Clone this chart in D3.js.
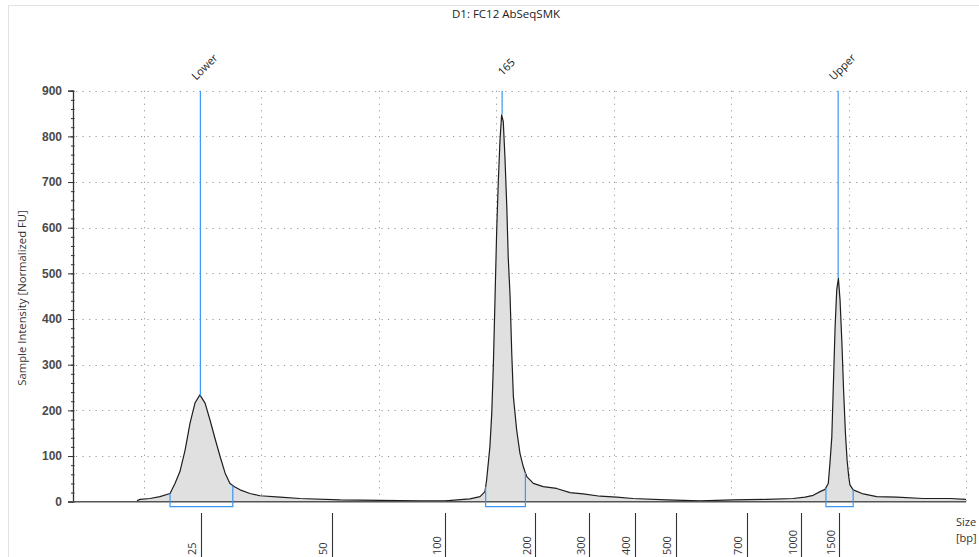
<!DOCTYPE html>
<html>
<head>
<meta charset="utf-8">
<script src="https://cdn.jsdelivr.net/npm/d3@7"></script>
<style>
  body { margin: 0; background: #fff; }
  svg { display: block; font-family: "Open Sans", "Liberation Sans", sans-serif; }
</style>
</head>
<body>
<div class="gram"></div>
<script>
// electropherogram trace: migration time (s) vs normalized FU
const migration = [19.72, 19.85, 20.28, 20.70, 21.13, 21.34, 21.55, 21.77, 21.98, 22.19, 22.40, 22.62, 22.83, 23.04, 23.26, 23.47, 23.68, 23.89, 24.11, 24.53, 24.96, 25.81, 26.66, 28.36, 30.06, 31.77, 32.83, 33.89, 34.32, 34.53, 34.60, 34.74, 34.82, 34.89, 34.96, 35.03, 35.10, 35.17, 35.24, 35.31, 35.38, 35.46, 35.52, 35.60, 35.67, 35.74, 35.88, 36.02, 36.16, 36.23, 36.31, 36.59, 37.01, 37.58, 38.15, 38.71, 39.43, 40.14, 40.83, 42.26, 43.68, 45.09, 46.52, 47.64, 48.15, 48.50, 48.79, 49.00, 49.14, 49.21, 49.29, 49.35, 49.43, 49.50, 49.57, 49.64, 49.72, 49.79, 49.87, 49.94, 50.01, 50.06, 50.20, 50.63, 51.20, 52.05, 53.18, 54.32, 55.00];
const intensity = [2, 5, 7, 11, 18, 40, 66, 113, 172, 216, 234, 216, 179, 139, 99, 63, 40, 32, 26, 18, 13, 10, 7, 4, 3, 2, 2, 6, 11, 22, 47, 120, 194, 304, 449, 595, 704, 792, 847, 832, 755, 646, 536, 449, 325, 230, 157, 106, 77, 66, 55, 40, 33, 29, 20, 17, 12, 10, 7, 4, 2, 4, 5, 7, 10, 14, 22, 27, 40, 84, 142, 245, 383, 464, 489, 442, 347, 245, 150, 91, 55, 37, 26, 17, 11, 10, 7, 7, 5];

// ladder sizes and where they sit in migration time
const ladderSizes = [25, 50, 100, 200, 300, 400, 500, 700, 1000, 1500];
const ladderTimes = [22.43, 28.01, 32.83, 36.66, 38.96, 40.91, 42.65, 45.67, 47.98, 49.61];

// called peaks
const peakLabels = ["Lower", "165", "Upper"];
const peakTimes = [22.42, 35.26, 49.56];
const peakValues = [232, 848, 490];
const regionStart = [21.13, 34.56, 49.04];
const regionEnd = [23.80, 36.25, 50.20];

const yTicks = [0, 100, 200, 300, 400, 500, 600, 700, 800, 900];
const timeGrid = [20, 25, 30, 35, 40, 45, 50, 55];

const width = 979, height = 557;
const margin = {top: 90.7, left: 73, right: 13, bottom: 55.3};
const blue = "#3b97f3";

const svg = d3.select(".gram")
    .append("svg")
    .attr("width", width)
    .attr("height", height);

const x = d3.scaleLinear()
    .domain([17, 55])
    .range([margin.left, width - margin.right]);
const y = d3.scaleLinear()
    .domain([0, 900])
    .range([height - margin.bottom, margin.top]);

// frame
svg.append("rect")
    .attr("x", 8.5).attr("y", 5.5)
    .attr("width", 1000).attr("height", 600)
    .attr("fill", "none")
    .attr("stroke", "#e2e2e2");

svg.append("text")
    .attr("x", 506).attr("y", 18)
    .attr("text-anchor", "middle")
    .attr("font-size", 11.5)
    .attr("fill", "#222")
    .text("D1: FC12 AbSeqSMK");

// grid
svg.append("g")
    .attr("stroke", "#999")
    .attr("stroke-dasharray", "1.2,5.3")
  .selectAll("line")
  .data(yTicks.slice(1))
  .join("line")
    .attr("x1", margin.left + 3).attr("x2", x(55))
    .attr("y1", d => Math.round(y(d)) + 0.5).attr("y2", d => Math.round(y(d)) + 0.5);
svg.append("g")
    .attr("stroke", "#999")
    .attr("stroke-dasharray", "1.2,5.3")
  .selectAll("line")
  .data(timeGrid)
  .join("line")
    .attr("x1", d => Math.round(x(d)) + 0.5).attr("x2", d => Math.round(x(d)) + 0.5)
    .attr("y1", y(900)).attr("y2", y(0));

// trace
const area = d3.area()
    .x((d, i) => x(migration[i]))
    .y0(y(0))
    .y1(d => y(d));
const line = d3.line()
    .x((d, i) => x(migration[i]))
    .y(d => y(d));
svg.append("path")
    .datum(intensity)
    .attr("fill", "#e0e0e0")
    .attr("d", area);
svg.append("path")
    .datum(intensity)
    .attr("fill", "none")
    .attr("stroke", "#1e1e1e")
    .attr("stroke-width", 1.2)
    .attr("stroke-linejoin", "round")
    .attr("d", line);

// value of the trace at a time, for the region brackets
const valueAt = t => {
    const i = Math.max(1, d3.bisectLeft(migration, t));
    const a = migration[i - 1], b = migration[i];
    return intensity[i - 1] + (intensity[i] - intensity[i - 1]) * (t - a) / (b - a);
};

// y axis
svg.append("g")
    .attr("transform", `translate(${margin.left},0)`)
    .call(d3.axisLeft(y).tickValues(d3.range(0, 901, 20)).tickSize(2).tickFormat(""))
    .call(g => g.select(".domain").remove())
    .call(g => g.selectAll(".tick line").attr("stroke", "#333").attr("x2", -2).attr("x1", 1.5));
svg.append("g")
    .attr("transform", `translate(${margin.left},0)`)
    .call(d3.axisLeft(y).tickValues(yTicks).tickSize(5).tickPadding(6))
    .call(g => g.select(".domain").attr("stroke", "#333").attr("stroke-width", 1.3))
    .call(g => g.selectAll(".tick line").attr("stroke", "#333"))
    .call(g => g.selectAll(".tick text")
        .attr("font-family", "Liberation Sans, Arial, sans-serif")
        .attr("font-size", 12)
        .attr("font-weight", "bold")
        .attr("fill", "#4a4a4a"));

svg.append("text")
    .attr("transform", `translate(26,298) rotate(-90)`)
    .attr("text-anchor", "middle")
    .attr("font-size", 11.3)
    .attr("fill", "#333")
    .text("Sample Intensity [Normalized FU]");

// x baseline
svg.append("line")
    .attr("x1", margin.left - 5).attr("x2", x(55))
    .attr("y1", y(0)).attr("y2", y(0))
    .attr("stroke", "#555")
    .attr("stroke-width", 1.6);

// region brackets
svg.append("g")
    .attr("fill", "none")
    .attr("stroke", blue)
    .attr("stroke-width", 1.2)
  .selectAll("path")
  .data(regionStart)
  .join("path")
    .attr("d", (d, i) => {
        const x0 = x(d), x1 = x(regionEnd[i]), b = y(0) + 5;
        return `M${x0},${y(valueAt(d))}V${b}H${x1}V${y(valueAt(regionEnd[i]))}`;
    });

// peak markers and labels
svg.append("g")
    .attr("stroke", blue)
    .attr("stroke-width", 1.2)
  .selectAll("line")
  .data(peakTimes)
  .join("line")
    .attr("x1", d => x(d)).attr("x2", d => x(d))
    .attr("y1", y(900)).attr("y2", (d, i) => y(peakValues[i]));
svg.append("g")
    .attr("font-size", 11)
    .attr("fill", "#222")
    .attr("text-anchor", "middle")
  .selectAll("text")
  .data(peakLabels)
  .join("text")
    .attr("transform", (d, i) => `translate(${x(peakTimes[i]) + 7},${margin.top - 21}) rotate(-45)`)
    .text(d => d);

// ladder ticks
const ladder = svg.append("g");
ladder.selectAll("line")
  .data(ladderTimes)
  .join("line")
    .attr("x1", d => Math.round(x(d)) + 0.5).attr("x2", d => Math.round(x(d)) + 0.5)
    .attr("y1", 513).attr("y2", height)
    .attr("stroke", "#333")
    .attr("stroke-width", 1.1);
ladder.selectAll("text")
  .data(ladderSizes)
  .join("text")
    .attr("transform", (d, i) => `translate(${x(ladderTimes[i]) - 4.5},555) rotate(-90)`)
    .attr("font-size", 11)
    .attr("fill", "#333")
    .text(d => d);

svg.append("text")
    .attr("x", 956).attr("y", 526)
    .attr("font-size", 11)
    .attr("fill", "#333")
  .selectAll("tspan")
  .data(["Size", "[bp]"])
  .join("tspan")
    .attr("x", 956)
    .attr("dy", (d, i) => i ? 15.5 : 0)
    .text(d => d);
</script>
</body>
</html>
